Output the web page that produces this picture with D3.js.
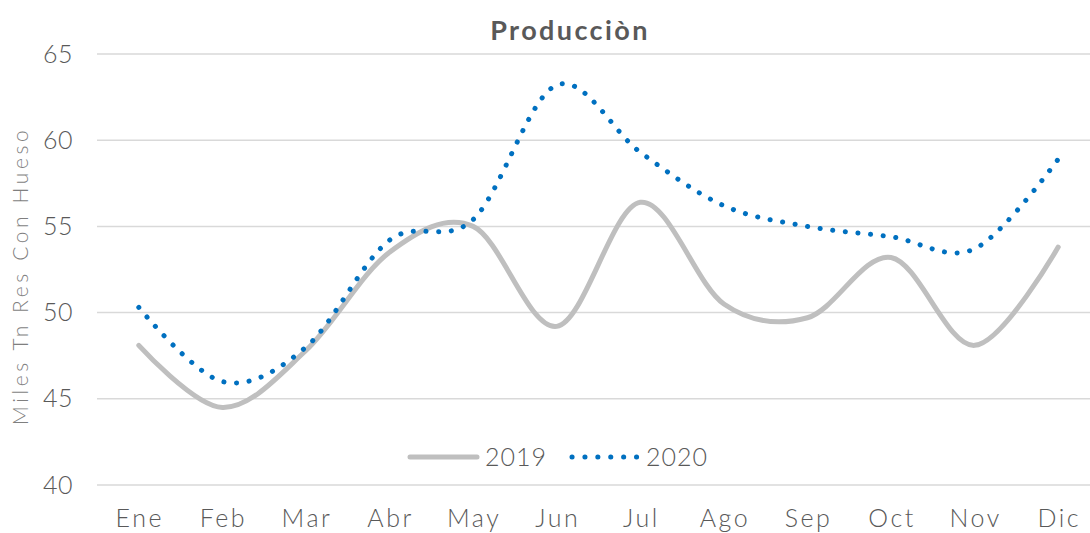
<!DOCTYPE html>
<html>
<head>
<meta charset="utf-8">
<script src="https://cdn.jsdelivr.net/npm/d3@7"></script>
<style>
  body { margin: 0; background: #fff; }
  svg { display: block; font-family: "Lato", "Noto Sans", sans-serif; }
</style>
</head>
<body>
<div id="chart"></div>
<script>
// data
var months = ['Ene', 'Feb', 'Mar', 'Abr', 'May', 'Jun', 'Jul', 'Ago', 'Sep', 'Oct', 'Nov', 'Dic'];
var prod2019 = [48.1, 44.5, 47.8, 53.5, 55.0, 49.2, 56.4, 50.5, 49.7, 53.2, 48.1, 53.8];
var prod2020 = [50.3, 46.0, 48.0, 54.2, 55.4, 63.2, 59.3, 56.2, 55.0, 54.4, 53.7, 58.9];
var yTicks = [40, 45, 50, 55, 60, 65];

var width = 1090, height = 533;
var margin = { top: 54, right: -10, bottom: 48, left: 97 };
var font = '"Lato", "Noto Sans", sans-serif';

var svg = d3.select('#chart').append('svg')
	.attr('width', width)
	.attr('height', height);

var x = d3.scaleBand()
	.domain(months)
	.range([margin.left, width - margin.right]);

var y = d3.scaleLinear()
	.domain([40, 65])
	.range([height - margin.bottom, margin.top]);

// gridlines
svg.append('g')
	.selectAll('line')
	.data(yTicks)
	.enter()
	.append('line')
	.attr('x1', margin.left)
	.attr('x2', width - margin.right)
	.attr('y1', (d) => y(d))
	.attr('y2', (d) => y(d))
	.attr('stroke', '#d9d9d9')
	.attr('stroke-width', 1.5);

// y axis
var yAxis = svg.append('g')
	.attr('transform', 'translate(' + (margin.left - 24) + ',0)')
	.call(d3.axisLeft(y).tickValues(yTicks).tickSize(0).tickPadding(0));
yAxis.select('.domain').remove();
yAxis.selectAll('text')
	.attr('fill', '#595959')
	.attr('font-size', '25px')
	.attr('font-weight', 300)
	.attr('letter-spacing', '0.5px')
	.attr('font-family', font);

// x axis
var xAxis = svg.append('g')
	.attr('transform', 'translate(0,' + (height - margin.bottom) + ')')
	.call(d3.axisBottom(x).tickSize(0).tickPadding(24));
xAxis.select('.domain').remove();
xAxis.selectAll('text')
	.attr('fill', '#595959')
	.attr('font-size', '25px')
	.attr('font-weight', 300)
	.attr('letter-spacing', '2.5px')
	.attr('dx', '1px')
	.attr('font-family', font);

// lines
var line = (vals) => d3.line()
	.x((d, i) => x(months[i]) + x.bandwidth() / 2)
	.y((d) => y(d))
	.curve(d3.curveCatmullRom.alpha(0))(vals);

svg.append('path')
	.attr('d', line(prod2019))
	.attr('fill', 'none')
	.attr('stroke', '#bfbfbf')
	.attr('stroke-width', 5)
	.attr('stroke-linecap', 'round');

svg.append('path')
	.attr('d', line(prod2020))
	.attr('fill', 'none')
	.attr('stroke', '#0070c0')
	.attr('stroke-width', 5)
	.attr('stroke-linecap', 'round')
	.attr('stroke-dasharray', '0.1,12.6');

// title
svg.append('text')
	.attr('x', 570)
	.attr('y', 40)
	.attr('text-anchor', 'middle')
	.attr('font-size', '27px')
	.attr('font-weight', 'bold')
	.attr('letter-spacing', '2.4px')
	.attr('fill', '#595959')
	.text('Producciòn');

// y label
svg.append('text')
	.attr('transform', 'translate(28,' + 276 + ') rotate(-90)')
	.attr('text-anchor', 'middle')
	.attr('font-size', '21px')
	.attr('font-weight', 300)
	.attr('letter-spacing', '3.6px')
	.attr('fill', '#7f7f7f')
	.text('Miles Tn Res Con Hueso');

// legend
var legend = svg.append('g').attr('transform', 'translate(0,457)');
legend.append('line')
	.attr('x1', 410).attr('x2', 477).attr('y1', 0).attr('y2', 0)
	.attr('stroke', '#bfbfbf').attr('stroke-width', 5).attr('stroke-linecap', 'round');
legend.append('text')
	.attr('x', 485).attr('y', 9)
	.attr('font-size', '25px').attr('font-weight', 300)
	.attr('letter-spacing', '1px').attr('fill', '#595959')
	.text('2019');
legend.append('line')
	.attr('x1', 572).attr('x2', 640).attr('y1', 0).attr('y2', 0)
	.attr('stroke', '#0070c0').attr('stroke-width', 5).attr('stroke-linecap', 'round')
	.attr('stroke-dasharray', '0.1,12.8');
legend.append('text')
	.attr('x', 646).attr('y', 9)
	.attr('font-size', '25px').attr('font-weight', 300)
	.attr('letter-spacing', '1px').attr('fill', '#595959')
	.text('2020');
</script>
</body>
</html>
